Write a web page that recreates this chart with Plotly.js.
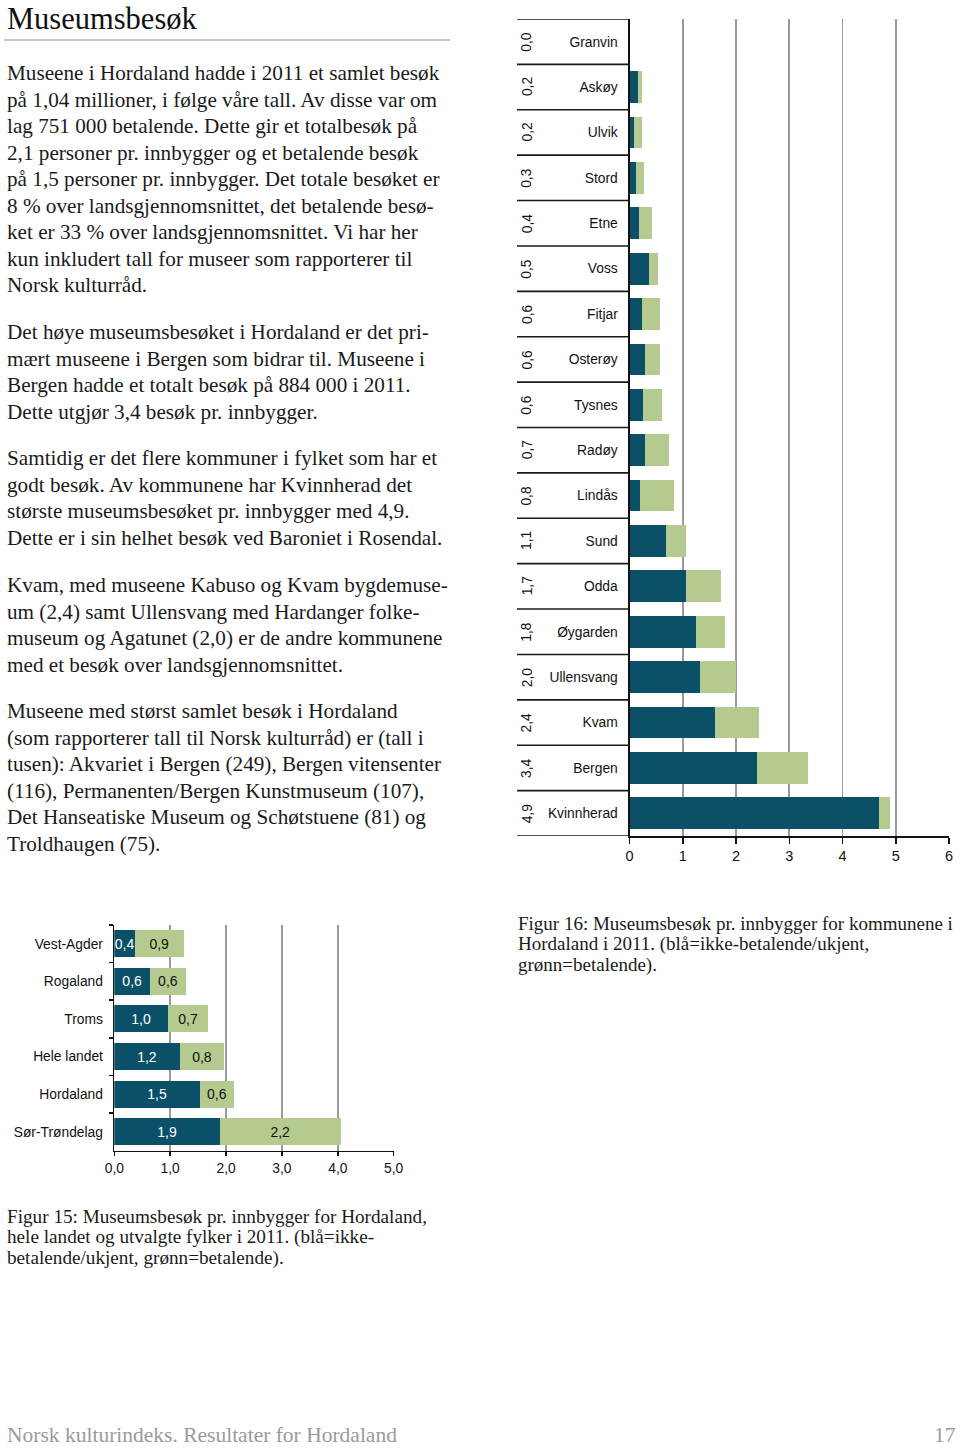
<!DOCTYPE html>
<html>
<head>
<meta charset="utf-8">
<script src="https://cdn.plot.ly/plotly-3.0.1.min.js"></script>
<style>
  html, body { margin: 0; padding: 0; background: #fff; }
  #chart { width: 960px; height: 1449px; }
</style>
</head>
<body>
<div id="chart"></div>
<script>
// ---------- Data: Figur 16 (kommuner i Hordaland) ----------
const kommuner = ['Granvin','Askøy','Ulvik','Stord','Etne','Voss','Fitjar','Osterøy','Tysnes','Radøy','Lindås','Sund','Odda','Øygarden','Ullensvang','Kvam','Bergen','Kvinnherad'];
const kommIkkeBetalende = [0.00,0.16,0.09,0.12,0.18,0.36,0.24,0.30,0.26,0.29,0.19,0.68,1.07,1.24,1.32,1.60,2.40,4.68];
const kommBetalende     = [0.00,0.07,0.15,0.16,0.24,0.17,0.33,0.28,0.35,0.45,0.65,0.38,0.65,0.55,0.68,0.83,0.96,0.21];
const kommTotalTekst    = ['0,0','0,2','0,2','0,3','0,4','0,5','0,6','0,6','0,6','0,7','0,8','1,1','1,7','1,8','2,0','2,4','3,4','4,9'];
const kommTicks = [0,1,2,3,4,5,6];

// ---------- Data: Figur 15 (fylker) ----------
const fylker = ['Vest-Agder','Rogaland','Troms','Hele landet','Hordaland','Sør-Trøndelag'];
const fylkeIkkeBetalende = [0.37,0.64,0.96,1.17,1.53,1.89];
const fylkeBetalende     = [0.87,0.64,0.72,0.80,0.61,2.16];
const fylkeTicks = [0,1,2,3,4,5];

// ---------- Text ----------
const tittel = 'Museumsbesøk';
const avsnitt = [
  ['Museene i Hordaland hadde i 2011 et samlet besøk',
   'på 1,04 millioner, i følge våre tall. Av disse var om',
   'lag 751 000 betalende. Dette gir et totalbesøk på',
   '2,1 personer pr. innbygger og et betalende besøk',
   'på 1,5 personer pr. innbygger. Det totale besøket er',
   '8 % over landsgjennomsnittet, det betalende besø-',
   'ket er 33 % over landsgjennomsnittet. Vi har her',
   'kun inkludert tall for museer som rapporterer til',
   'Norsk kulturråd.'],
  ['Det høye museumsbesøket i Hordaland er det pri-',
   'mært museene i Bergen som bidrar til. Museene i',
   'Bergen hadde et totalt besøk på 884 000 i 2011.',
   'Dette utgjør 3,4 besøk pr. innbygger.'],
  ['Samtidig er det flere kommuner i fylket som har et',
   'godt besøk. Av kommunene har Kvinnherad det',
   'største museumsbesøket pr. innbygger med 4,9.',
   'Dette er i sin helhet besøk ved Baroniet i Rosendal.'],
  ['Kvam, med museene Kabuso og Kvam bygdemuse-',
   'um (2,4) samt Ullensvang med Hardanger folke-',
   'museum og Agatunet (2,0) er de andre kommunene',
   'med et besøk over landsgjennomsnittet.'],
  ['Museene med størst samlet besøk i Hordaland',
   '(som rapporterer tall til Norsk kulturråd) er (tall i',
   'tusen): Akvariet i Bergen (249), Bergen vitensenter',
   '(116), Permanenten/Bergen Kunstmuseum (107),',
   'Det Hanseatiske Museum og Schøtstuene (81) og',
   'Troldhaugen (75).']
];
const figur16Tekst = ['Figur 16: Museumsbesøk pr. innbygger for kommunene i',
                      'Hordaland i 2011. (blå=ikke-betalende/ukjent,',
                      'grønn=betalende).'];
const figur15Tekst = ['Figur 15: Museumsbesøk pr. innbygger for Hordaland,',
                      'hele landet og utvalgte fylker i 2011. (blå=ikke-',
                      'betalende/ukjent, grønn=betalende).'];
const bunntekst = 'Norsk kulturindeks. Resultater for Hordaland';
const sidetall = '17';

// ---------- Styling / layout helpers ----------
const W = 960, H = 1449;
const px = x => x / W;
const py = y => 1 - y / H;
const BLUE = '#0b5069';
const GREEN = '#b4ca8e';
const SANS = 'Liberation Sans, Arial, sans-serif';
const SERIF = 'Liberation Serif, Times New Roman, serif';

const traces = [
  { type: 'bar', orientation: 'h', name: 'ikke-betalende/ukjent',
    y: kommuner, x: kommIkkeBetalende, xaxis: 'x', yaxis: 'y',
    marker: { color: BLUE }, width: 0.7, hoverinfo: 'skip' },
  { type: 'bar', orientation: 'h', name: 'betalende',
    y: kommuner, x: kommBetalende, xaxis: 'x', yaxis: 'y',
    marker: { color: GREEN }, width: 0.7, hoverinfo: 'skip' },
  { type: 'bar', orientation: 'h', name: 'ikke-betalende/ukjent',
    y: fylker, x: fylkeIkkeBetalende, xaxis: 'x2', yaxis: 'y2',
    marker: { color: BLUE }, width: 0.72, hoverinfo: 'skip',
    texttemplate: '%{x:.1f}', textposition: 'inside', insidetextanchor: 'middle',
    textangle: 0, constraintext: 'none',
    insidetextfont: { family: SANS, size: 14, color: '#ffffff' } },
  { type: 'bar', orientation: 'h', name: 'betalende',
    y: fylker, x: fylkeBetalende, xaxis: 'x2', yaxis: 'y2',
    marker: { color: GREEN }, width: 0.72, hoverinfo: 'skip',
    texttemplate: '%{x:.1f}', textposition: 'inside', insidetextanchor: 'middle',
    textangle: 0, constraintext: 'none',
    insidetextfont: { family: SANS, size: 14, color: '#111111' } }
];

const annotations = [];
const shapes = [];

// Title + rule
annotations.push({ text: tittel, xref: 'paper', yref: 'paper', x: px(5), y: py(0),
  xanchor: 'left', yanchor: 'top', showarrow: false,
  font: { family: SERIF, size: 30.5, color: '#111' } });
shapes.push({ type: 'line', xref: 'paper', yref: 'paper', x0: px(4), x1: px(450), y0: py(40), y1: py(40),
  line: { color: '#c8c8c8', width: 2 } });

// Body paragraphs
const paraStarts = [73, 332, 458, 585, 711];
const LS = 26.55;
avsnitt.forEach((linjer, p) => {
  linjer.forEach((t, i) => {
    annotations.push({ text: t, xref: 'paper', yref: 'paper', x: px(5), y: py(paraStarts[p] + i * LS),
      xanchor: 'left', yanchor: 'middle', showarrow: false,
      font: { family: SERIF, size: 21.2, color: '#1a1a1a' } });
  });
});

// Captions
figur16Tekst.forEach((t, i) => annotations.push({ text: t, xref: 'paper', yref: 'paper',
  x: px(516), y: py(923 + i * 21), xanchor: 'left', yanchor: 'middle', showarrow: false,
  font: { family: SERIF, size: 19, color: '#1a1a1a' } }));
figur15Tekst.forEach((t, i) => annotations.push({ text: t, xref: 'paper', yref: 'paper',
  x: px(5), y: py(1216 + i * 21), xanchor: 'left', yanchor: 'middle', showarrow: false,
  font: { family: SERIF, size: 19.2, color: '#1a1a1a' } }));

// Footer
annotations.push({ text: bunntekst, xref: 'paper', yref: 'paper', x: px(5), y: py(1449),
  xanchor: 'left', yanchor: 'bottom', showarrow: false,
  font: { family: SERIF, size: 21.5, color: '#9a9a9a' } });
annotations.push({ text: sidetall, xref: 'paper', yref: 'paper', x: px(958), y: py(1449),
  xanchor: 'right', yanchor: 'bottom', showarrow: false,
  font: { family: SERIF, size: 21.5, color: '#9a9a9a' } });

// Figur 16 table: rotated totals + row separators
kommuner.forEach((k, i) => {
  annotations.push({ text: kommTotalTekst[i], xref: 'paper', yref: 'y', x: px(527), y: k,
    xanchor: 'center', yanchor: 'middle', textangle: -90, showarrow: false,
    font: { family: SANS, size: 13.8, color: '#111' } });
});
for (let i = 0; i <= kommuner.length; i++) {
  shapes.push({ type: 'line', xref: 'paper', yref: 'y', x0: px(517), x1: px(629.5), y0: i - 0.5, y1: i - 0.5,
    line: { color: '#1a1a1a', width: 1.6 } });
}

const layout = {
  width: W, height: H,
  margin: { l: 0, r: 0, t: 0, b: 0, pad: 0 },
  paper_bgcolor: '#ffffff', plot_bgcolor: '#ffffff',
  separators: ', ',
  barmode: 'stack',
  showlegend: false,
  font: { family: SANS, color: '#111' },
  xaxis: {
    domain: [px(629.5), px(949)], range: [0, 6], tickvals: kommTicks, tickformat: 'd',
    showgrid: true, gridcolor: '#9a9a9a', gridwidth: 1.6, zeroline: false,
    showline: true, linecolor: '#111', linewidth: 1.6,
    ticks: 'outside', ticklen: 6, tickwidth: 1.5, tickcolor: '#111',
    tickfont: { family: SANS, size: 14.5, color: '#111' }, anchor: 'y', fixedrange: true
  },
  yaxis: {
    domain: [py(836), py(19)], type: 'category', categoryorder: 'array', categoryarray: kommuner,
    range: [kommuner.length - 0.5, -0.5],
    showgrid: false, zeroline: false, showline: true, linecolor: '#111', linewidth: 2,
    ticks: '', ticklabelstandoff: 7,
    tickfont: { family: SANS, size: 13.8, color: '#111' }, anchor: 'x', fixedrange: true
  },
  xaxis2: {
    domain: [px(114.3), px(393.7)], range: [0, 5], tickvals: fylkeTicks, tickformat: '.1f',
    showgrid: true, gridcolor: '#9a9a9a', gridwidth: 1.6, zeroline: false,
    showline: true, linecolor: '#111', linewidth: 1.6,
    ticks: 'outside', ticklen: 4, tickwidth: 1.5, tickcolor: '#111',
    tickfont: { family: SANS, size: 13.8, color: '#111' }, anchor: 'y2', fixedrange: true
  },
  yaxis2: {
    domain: [py(1150.5), py(925)], type: 'category', categoryorder: 'array', categoryarray: fylker,
    range: [fylker.length - 0.5, -0.5],
    showgrid: false, zeroline: false, showline: true, linecolor: '#111', linewidth: 1.6,
    ticks: 'outside', tickson: 'boundaries', ticklen: 4, tickwidth: 1.5, tickcolor: '#111',
    ticklabelstandoff: 7,
    tickfont: { family: SANS, size: 13.8, color: '#111' }, anchor: 'x2', fixedrange: true
  },
  annotations: annotations,
  shapes: shapes
};

Plotly.newPlot('chart', traces, layout, { displayModeBar: false, staticPlot: true });
</script>
</body>
</html>
